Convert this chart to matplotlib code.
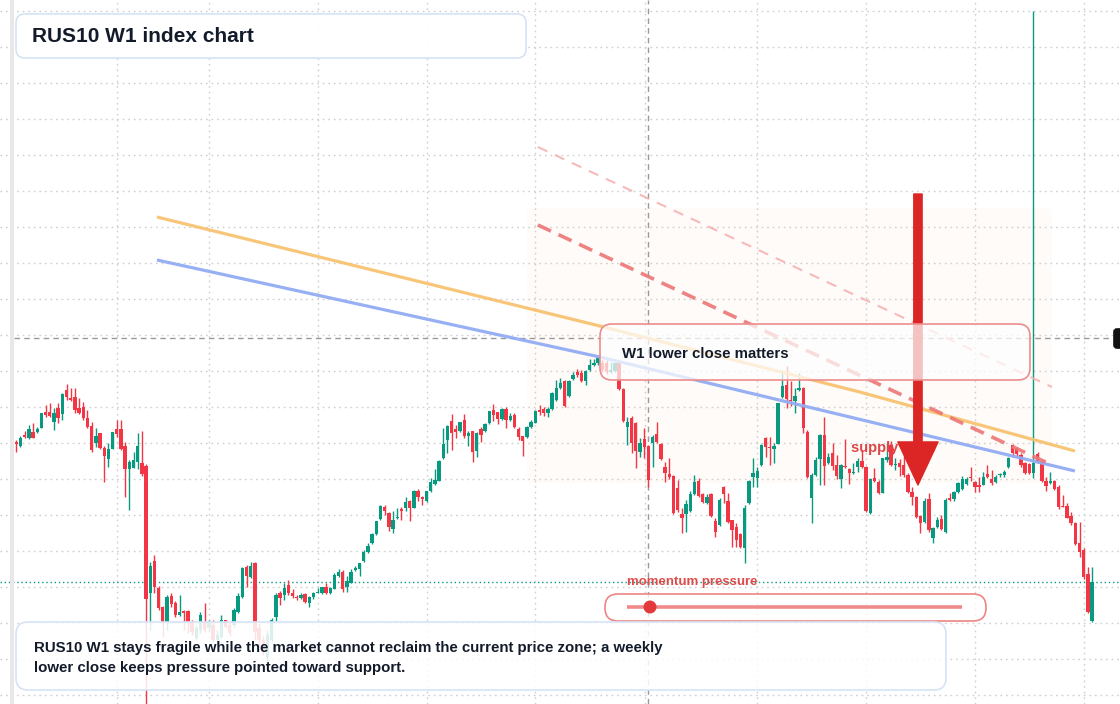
import numpy as np
import matplotlib
matplotlib.use("Agg")
import matplotlib.pyplot as plt
from matplotlib.patches import FancyBboxPatch, FancyArrowPatch, Rectangle, Circle
from matplotlib.transforms import Affine2D

plt.rcParams['font.family'] = ['Liberation Sans', 'DejaVu Sans']

# weekly candles, RUS10 W1
opens = [558, 554, 565, 562, 568, 568, 572, 588, 588, 578, 592, 586, 610, 602, 603, 592, 593, 582, 574, 557,
         567, 552, 541, 551, 571, 571, 554, 531, 532, 538, 537, 534, 407, 439, 412, 393, 378, 404, 397, 385,
         389, 389, 378, 362, 370, 378, 372, 375, 360, 363, 380, 375, 375, 388, 403, 433, 423, 437, 372, 360,
         343, 360, 383, 407, 405, 415, 407, 403, 402, 406, 397, 403, 407, 407, 413, 407, 411, 424, 428, 413,
         417, 430, 431, 439, 448, 457, 466, 481, 493, 487, 471, 482, 491, 492, 499, 492, 509, 503, 499, 509,
         516, 519, 542, 560, 579, 571, 569, 580, 564, 569, 549, 571, 569, 577, 590, 588, 581, 591, 580, 585,
         571, 564, 563, 573, 577, 590, 591, 587, 591, 600, 612, 619, 604, 621, 628, 627, 619, 630, 635, 637,
         637, 637, 628, 629, 637, 611, 573, 582, 577, 548, 561, 554, 557, 566, 556, 533, 526, 524, 512, 486,
         486, 489, 506, 519, 506, 497, 506, 479, 475, 513, 499, 480, 473, 466, 452, 497, 523, 522, 535, 562,
         553, 551, 556, 603, 615, 600, 599, 610, 612, 568, 502, 525, 541, 565, 537, 547, 535, 521, 534, 531,
         527, 533, 539, 533, 487, 522, 518, 507, 540, 555, 535, 537, 535, 525, 508, 503, 484, 478, 501, 462,
         473, 481, 468, 502, 501, 508, 511, 516, 523, 518, 515, 515, 526, 521, 518, 525, 525, 533, 555, 552,
         545, 537, 536, 527, 546, 538, 519, 517, 519, 513, 494, 494, 484, 477, 457, 450, 426, 379]
highs = [560, 564, 569, 575, 577, 573, 587, 595, 597, 592, 597, 607, 616, 612, 612, 602, 598, 590, 578, 572,
         567, 554, 557, 568, 580, 580, 558, 540, 548, 567, 569, 536, 438, 445, 414, 394, 405, 407, 399, 405,
         390, 390, 380, 375, 388, 397, 380, 380, 370, 385, 380, 378, 392, 407, 433, 435, 438, 438, 377, 364,
         370, 382, 407, 409, 417, 420, 411, 405, 407, 407, 404, 408, 412, 413, 417, 413, 427, 431, 430, 424,
         431, 434, 437, 450, 457, 467, 479, 495, 495, 488, 489, 492, 493, 503, 500, 510, 511, 504, 509, 522,
         531, 540, 572, 575, 586, 575, 578, 586, 569, 569, 568, 573, 577, 589, 596, 588, 592, 593, 587, 587,
         573, 564, 574, 580, 590, 595, 593, 593, 608, 620, 622, 620, 620, 628, 631, 630, 630, 641, 641, 643,
         640, 640, 638, 638, 639, 612, 583, 584, 578, 562, 572, 555, 565, 578, 557, 538, 542, 525, 520, 492,
         500, 509, 525, 522, 507, 506, 507, 482, 502, 514, 507, 480, 477, 467, 495, 520, 542, 533, 556, 563,
         563, 557, 597, 630, 634, 619, 612, 627, 613, 570, 527, 543, 566, 583, 547, 557, 545, 536, 561, 532,
         537, 542, 550, 534, 522, 532, 520, 542, 557, 559, 542, 541, 544, 527, 513, 504, 485, 502, 507, 473,
         483, 485, 502, 507, 509, 518, 524, 523, 533, 519, 523, 528, 535, 530, 525, 527, 530, 543, 556, 553,
         547, 538, 537, 989, 548, 540, 523, 528, 520, 515, 505, 497, 488, 478, 478, 452, 433, 433]
lows = [548, 553, 562, 561, 562, 567, 572, 583, 583, 570, 577, 580, 600, 599, 587, 586, 580, 572, 548, 553,
        551, 518, 533, 551, 563, 550, 503, 490, 532, 531, 524, 290, 370, 407, 390, 363, 370, 393, 383, 384,
        370, 367, 365, 360, 367, 368, 368, 358, 355, 362, 372, 364, 373, 387, 402, 413, 422, 360, 355, 345,
        335, 358, 379, 395, 400, 405, 402, 400, 401, 397, 393, 401, 407, 406, 406, 406, 411, 423, 408, 408,
        417, 429, 424, 438, 447, 456, 465, 480, 485, 469, 467, 481, 480, 489, 479, 492, 499, 495, 498, 508,
        515, 519, 541, 547, 550, 562, 568, 562, 554, 538, 543, 558, 568, 576, 579, 576, 580, 572, 579, 572,
        560, 544, 562, 572, 577, 585, 584, 583, 590, 599, 611, 593, 603, 620, 623, 618, 615, 629, 634, 635,
        628, 626, 627, 628, 610, 578, 555, 547, 532, 543, 542, 513, 533, 557, 540, 518, 521, 486, 488, 467,
        468, 488, 505, 503, 497, 496, 483, 463, 474, 497, 477, 453, 453, 452, 437, 496, 513, 513, 534, 543,
        535, 537, 556, 602, 592, 594, 587, 609, 567, 522, 477, 524, 515, 515, 536, 530, 521, 512, 532, 516,
        526, 528, 532, 488, 486, 518, 506, 507, 538, 534, 530, 524, 523, 507, 495, 482, 467, 477, 468, 457,
        472, 470, 467, 499, 499, 507, 510, 515, 519, 508, 508, 515, 522, 515, 517, 523, 523, 532, 543, 544,
        533, 526, 526, 522, 537, 518, 509, 516, 510, 491, 493, 482, 475, 455, 443, 421, 387, 378]
closes = [556, 562, 563, 571, 562, 571, 587, 585, 584, 587, 582, 606, 603, 600, 590, 587, 582, 573, 550, 564,
          552, 544, 551, 568, 566, 551, 531, 538, 540, 554, 526, 401, 434, 413, 392, 378, 403, 396, 385, 388,
          387, 378, 368, 372, 385, 370, 377, 360, 365, 380, 373, 367, 390, 404, 432, 424, 434, 368, 360, 350,
          365, 380, 405, 402, 412, 407, 404, 402, 405, 398, 403, 407, 408, 413, 407, 412, 425, 428, 411, 419,
          428, 432, 437, 448, 454, 466, 479, 494, 489, 473, 480, 483, 489, 498, 492, 509, 503, 501, 509, 518,
          520, 539, 556, 574, 567, 568, 578, 564, 567, 548, 567, 565, 576, 589, 585, 581, 591, 580, 584, 573,
          563, 559, 573, 578, 589, 588, 587, 591, 607, 612, 617, 594, 619, 625, 625, 619, 629, 635, 637, 642,
          630, 628, 630, 637, 611, 579, 578, 557, 549, 557, 553, 520, 563, 558, 541, 527, 523, 487, 490, 482,
          496, 506, 518, 504, 498, 503, 484, 468, 500, 506, 478, 470, 460, 453, 492, 519, 527, 529, 555, 553,
          552, 554, 597, 614, 601, 599, 604, 612, 572, 523, 525, 540, 565, 534, 543, 534, 524, 535, 533, 527,
          528, 539, 533, 489, 521, 519, 507, 542, 543, 535, 536, 533, 525, 508, 503, 483, 477, 499, 470, 472,
          480, 471, 500, 500, 508, 517, 521, 521, 522, 513, 513, 523, 523, 517, 523, 526, 528, 542, 547, 546,
          535, 527, 527, 537, 537, 519, 514, 519, 511, 493, 493, 482, 477, 456, 448, 423, 388, 418]

# half-year separators (bar index) and price grid levels
grid_bars = [24, 46, 72, 98, 124, 150.2, 177, 203, 229, 255]
grid_levels = [305 + 36 * k for k in range(20)]

# overlay levels (bar index, price)
orange_x = [33.6, 139.4, 201.5, 252.9]
orange_y = [783, 674, 608, 549]
blue_x = [33.6, 139.4, 252.9]
blue_y = [740, 643, 529]
dash_x = [124.6, 247.4]
dash_y = [775, 535]
dash2_y = [853, 613]
zone_x = [122.0, 247.4]
zone_y = [517, 792]
arrow_x = 215.4
arrow_y = [806, 515]
cross_bar, cross_level = 150.9, 662

UP = '#089981'
DOWN = '#f23645'

W, H = 1120, 704
fig = plt.figure(figsize=(W / 100, H / 100), dpi=100)
fig.patch.set_facecolor('white')
ax = fig.add_axes([0, 0, 1, 1])
ax.set_xlim(-3.894, 263.67)
ax.set_ylim(296, 1000)
for s in ax.spines.values():
    s.set_visible(False)
ax.set_xticks(grid_bars)
ax.set_yticks(grid_levels)
ax.tick_params(length=0, labelbottom=False, labelleft=False)
ax.grid(True, linestyle=(0, (1.2, 2.8)), color='#cfcfcf', linewidth=1)
ax.set_axisbelow(True)

# pixel transform (origin top-left) for layout pieces
px = Affine2D().scale(1 / W, -1 / H).translate(0, 1) + fig.transFigure

# faint supply zone
zx0, zx1 = zone_x
zy0, zy1 = zone_y
ax.add_patch(FancyBboxPatch((zx0, zy0), zx1 - zx0, zy1 - zy0,
                            boxstyle='round,pad=0,rounding_size=3',
                            fc='#f6d8c0', ec='none', alpha=0.1, zorder=0.3))

# candles
o = np.array(opens, float)
h = np.array(highs, float)
lo = np.array(lows, float)
c = np.array(closes, float)
idx = np.arange(len(c))
cols = np.where(c >= o, UP, DOWN)
ax.vlines(idx, lo, h, colors=cols, linewidth=1, zorder=3)
ax.bar(idx, np.maximum(np.abs(c - o), 0.9), bottom=np.minimum(o, c), width=0.8,
       color=cols, linewidth=0, zorder=3.1)

# crosshair and last price line
ax.axhline(cross_level, color='#9a9a9a', lw=1, ls=(0, (4, 3)), zorder=2.5, xmin=0.0125, xmax=0.993)
ax.axvline(cross_bar, color='#9a9a9a', lw=1, ls=(0, (4, 3)), zorder=2.5)
ax.axhline(closes[-1], color=UP, lw=1, ls=(0, (1, 2)), zorder=2.5)

# trend lines
ax.plot(orange_x, orange_y, color='#f8c06a', lw=2.3, alpha=0.9, zorder=3.5, solid_capstyle='butt')
ax.plot(blue_x, blue_y, color='#92acf4', lw=2.3, alpha=0.95, zorder=3.5, solid_capstyle='butt')
ax.plot(dash_x, dash_y, color='#ec7676', lw=2.6, ls=(0, (4, 2.3)), alpha=0.9, zorder=3.5)
ax.plot(dash_x, dash2_y, color='#f5b3b3', lw=1.5, ls=(0, (5, 4)), alpha=0.9, zorder=3.5)

# supply zone label under the arrow
ax.text(851, 448, 'supply zone', transform=px, color='#e04545', fontsize=10.5,
        fontweight='bold', va='center', ha='left', zorder=4)

# big down arrow
arr = FancyArrowPatch((arrow_x, arrow_y[0]), (arrow_x, arrow_y[1]),
                      arrowstyle='simple,head_length=31,head_width=29,tail_width=6',
                      mutation_scale=1, color='#dc2626', shrinkA=0, shrinkB=0,
                      capstyle='round', zorder=5)
ax.add_patch(arr)


def rbox(x0, y0, x1, y1, r, fc, ec, lw=1.2, z=6):
    p = FancyBboxPatch((x0, y0), x1 - x0, y1 - y0,
                       boxstyle=f'round,pad=0,rounding_size={r}',
                       transform=px, fc=fc, ec=ec, lw=lw, zorder=z, clip_on=False)
    ax.add_patch(p)


# left stripe
ax.add_patch(Rectangle((10, 0), 4, H, transform=px, fc='#e8e8e8', ec='none', zorder=6))

# title
rbox(16, 14, 526, 58, 9, (1, 1, 1, 0.95), '#d5e3f6')
ax.text(32, 37, 'RUS10 W1 index chart', transform=px, fontsize=15, fontweight='bold',
        color='#131b2b', va='center', ha='left', zorder=7)

# callout
rbox(600, 324, 1030, 380, 12, (1, 1, 1, 0.72), '#ec8d8d', lw=1.2)
ax.text(622, 354, 'W1 lower close matters', transform=px, fontsize=10.8, fontweight='bold',
        color='#131b2b', va='center', ha='left', zorder=7)

# momentum widget
ax.text(627, 582, 'momentum pressure', transform=px, fontsize=9.5, fontweight='bold',
        color='#e04a4a', va='center', ha='left', zorder=7)
rbox(605, 594, 986, 621, 13, (1, 1, 1, 0.75), '#ee8585', lw=1.2)
ax.plot([627, 962], [607, 607], transform=px, color='#f08a8a', lw=2.6, zorder=7,
        solid_capstyle='butt')
ax.add_patch(Circle((650, 607), 6.5, transform=px, fc='#e23a3a', ec='none', zorder=7.5))

# summary box
rbox(16, 622, 946, 690, 12, (1, 1, 1, 0.86), '#d5e3f6')
ax.text(34, 648, 'RUS10 W1 stays fragile while the market cannot reclaim the current price zone; a weekly',
        transform=px, fontsize=10.8, fontweight='bold', color='#131b2b', va='center', ha='left', zorder=7)
ax.text(34, 668, 'lower close keeps pressure pointed toward support.',
        transform=px, fontsize=10.8, fontweight='bold', color='#131b2b', va='center', ha='left', zorder=7)

# cut-off price tag at right edge
rbox(1114, 329, 1134, 348, 3, '#111111', '#111111', z=7)

fig.savefig('out.png', dpi=100, facecolor='white')
